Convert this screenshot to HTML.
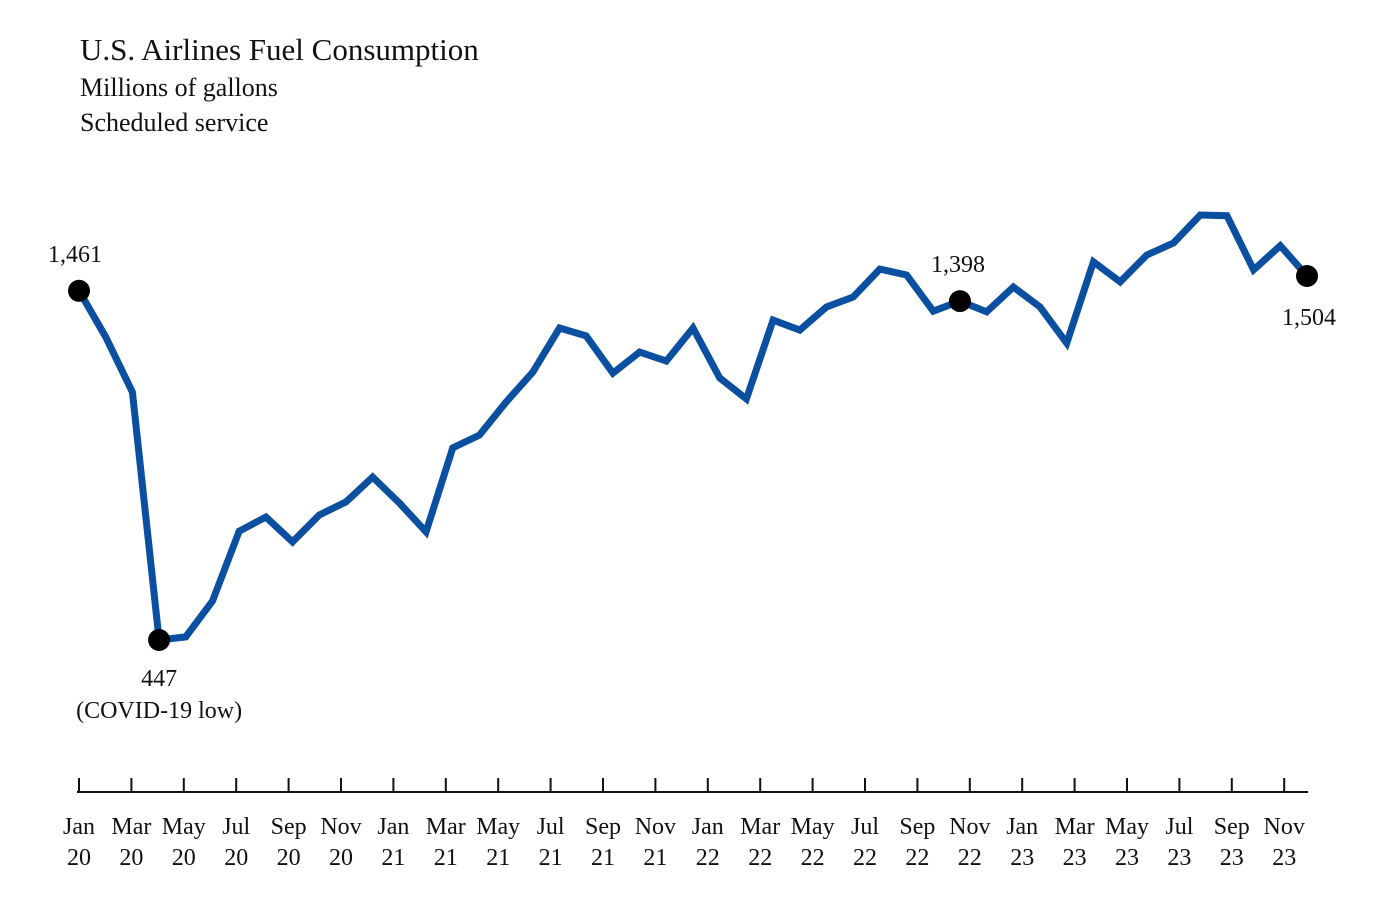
<!DOCTYPE html>
<html><head><meta charset="utf-8">
<style>
body{margin:0;background:#fff;}
svg{display:block;font-family:"Liberation Serif",serif;}
</style></head>
<body>
<svg id="chart" width="1385" height="899" viewBox="0 0 1385 899">
<text x="80" y="60" font-size="31" fill="#111">U.S. Airlines Fuel Consumption</text>
<text x="80" y="96" font-size="26" fill="#111">Millions of gallons</text>
<text x="80" y="131" font-size="26" fill="#111">Scheduled service</text>
<g id="axis"></g>
<g id="series"></g>
<g id="annotations"></g>
</svg>
<script>
const values=[1461,1327,1167,447,456,560,763,804,732,810,848,920,845,761,1005,1042,1138,1225,1353,1330,1222,1283,1257,1353,1208,1147,1376,1347,1414,1443,1524,1507,1402,1431,1400,1472,1414,1309,1545,1487,1565,1600,1681,1679,1522,1592,1504];
const tickMonths=["Jan","Mar","May","Jul","Sep","Nov","Jan","Mar","May","Jul","Sep","Nov","Jan","Mar","May","Jul","Sep","Nov","Jan","Mar","May","Jul","Sep","Nov"];
const tickYears=["20","20","20","20","20","20","21","21","21","21","21","21","22","22","22","22","22","22","23","23","23","23","23","23"];
const highlights=[{i:0,label:"1,461",dx:-4,dy:-29},{i:3,label:"447",dx:0,dy:46},{i:33,label:"1,398",dx:-2,dy:-29},{i:46,label:"1,504",dx:2,dy:49}];
const NS="http://www.w3.org/2000/svg";
const x=i=>79+i*(1228/(values.length-1));
const y=v=>640-(v-447)*(364/1057);
const tx=k=>79+k*52.4;
const axis=document.getElementById('axis');
function mk(t,a,p){const e=document.createElementNS(NS,t);for(const k in a)e.setAttribute(k,a[k]);p.appendChild(e);return e;}
const al=mk('line',{x1:77,x2:1308,y1:792,y2:792,stroke:'#111','stroke-width':2},axis);


tickMonths.forEach((m,k)=>{
 const t=mk('line',{x1:tx(k),x2:tx(k),y1:778,y2:792,stroke:'#111','stroke-width':2},axis);
 
 
 const l=mk('text',{x:tx(k),y:834,'text-anchor':'middle','font-size':24,fill:'#111'},axis);
 
 
 const s1=mk('tspan',{x:tx(k),dy:0},l);s1.textContent=m;
 const s2=mk('tspan',{x:tx(k),dy:31},l);s2.textContent=tickYears[k];
});
const ser=document.getElementById('series');
const p=mk('polyline',{points:values.map((v,i)=>x(i)+','+y(v)).join(' '),fill:'none',stroke:'#0b4fa0','stroke-width':7,'stroke-linejoin':'miter','stroke-miterlimit':3},ser);


const ann=document.getElementById('annotations');
highlights.forEach(h=>{
 const c=mk('circle',{cx:x(h.i),cy:y(values[h.i]),r:11,fill:'#000'},ann);
 
 
 const t=mk('text',{x:x(h.i)+h.dx,y:y(values[h.i])+h.dy,'text-anchor':'middle','font-size':24,fill:'#111'},ann);
 
 
 t.textContent=h.label;
});
const cv=mk('text',{x:x(3),y:y(values[3])+78,'text-anchor':'middle','font-size':24,fill:'#111'},ann);


cv.textContent="(COVID-19 low)";
</script>
</body></html>
